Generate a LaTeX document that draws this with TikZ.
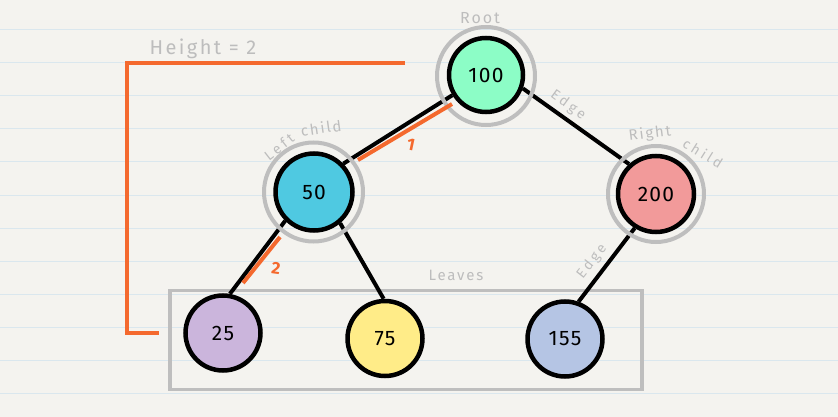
\documentclass[tikz,border=0pt]{standalone}
\usepackage{fontspec}
\setmainfont{Fira Sans}
\newfontfamily\lblfam[LetterSpace=12]{Fira Sans}
\newfontfamily\widefam[LetterSpace=22]{Fira Sans}
\newfontfamily\numfam[LetterSpace=6]{Fira Sans}
\definecolor{bgc}{HTML}{F4F3EF}
\definecolor{rulec}{HTML}{DAE7EE}
\definecolor{lblgray}{HTML}{BDBDBD}
\definecolor{ringgray}{HTML}{BEBEBE}
\definecolor{orng}{HTML}{F4692E}
\definecolor{cmint}{HTML}{8CFDC6}
\definecolor{ccyan}{HTML}{4FC9E1}
\definecolor{cpink}{HTML}{F29A9A}
\definecolor{clav}{HTML}{CBB5DC}
\definecolor{cyel}{HTML}{FFEC88}
\definecolor{cblue}{HTML}{B5C5E4}
\begin{document}
\begin{tikzpicture}[x=1pt,y=-1pt,
  tnode/.style={circle, draw=black, line width=4.5pt, minimum size=75pt, inner sep=0pt, font=\numfam\fontsize{21pt}{21pt}\selectfont},
  ringc/.style={circle, draw=ringgray, line width=4pt, minimum size=98pt, inner sep=0pt},
  edgeline/.style={line width=4pt, draw=black},
  oline/.style={line width=4pt, draw=orng},
  rulel/.style={line width=1pt, draw=rulec},
  lbl/.style={text=lblgray, font=\lblfam\fontsize{15pt}{15pt}\selectfont, inner sep=0pt},
  wlbl/.style={text=lblgray, font=\widefam\fontsize{14pt}{14pt}\selectfont, inner sep=0pt},
  olbl/.style={text=orng, font=\fontsize{17pt}{17pt}\selectfont\bfseries, inner sep=0pt}]
\useasboundingbox (0,0) rectangle (838,417);
\fill[bgc] (0,0) rectangle (838,417);
\foreach \k in {0,...,11}
  \draw[rulel] (0,{29.5+33.1*\k}) -- (838,{29.5+33.1*\k});
% leaves box
\node[draw=ringgray, line width=3.5pt, minimum width=472pt, minimum height=99pt, inner sep=0pt, anchor=north west] (leafbox) at (168,288.5) {};
% tree nodes
\node[tnode, fill=cmint, minimum size=74pt] (n100) at (486,75) {100};
\node[tnode, fill=ccyan, minimum size=77pt] (n50) at (314,192) {50};
\node[tnode, fill=cpink, minimum size=76pt] (n200) at (656,194) {200};
\node[tnode, fill=clav] (n25) at (223,333) {25};
\node[tnode, fill=cyel] (n75) at (385,338.5) {75};
\node[tnode, fill=cblue] (n155) at (565,339) {155};
% edges
\draw[edgeline] (n100.211) -- (n50.44);
\draw[edgeline] (n100.340) -- (n200.132);
\draw[edgeline] (n50.225) -- (n25.80);
\draw[edgeline] (n50.310) -- (n75.92);
\draw[edgeline] (n200.238) -- (n155.70);
% rings
\node[ringc] (r100) at (486,76) {};
\node[ringc, minimum size=99pt] (r50) at (313.5,192) {};
\node[ringc, minimum size=96pt] (r200) at (656,194) {};
% height bracket
\coordinate (hA) at (405,63);
\coordinate (hB) at (127,63);
\coordinate (hC) at (127,333);
\coordinate (hD) at (159,333);
\draw[oline] (hA) -- (hB) -- (hC) -- (hD);
\coordinate (o1a) at (452,104);
\coordinate (o1b) at (358,160);
\draw[oline] (o1a) -- (o1b);
\coordinate (o2a) at (280,237);
\coordinate (o2b) at (243,283);
\draw[oline] (o2a) -- (o2b);
\node[olbl, rotate=-12] (one) at (411,145) {1};
\node[olbl, rotate=-8] (two) at (276,268) {2};
% labels
\node[lbl, font=\lblfam\fontsize{20pt}{20pt}\selectfont] (hlbl) at (203,49) {Height = 2};
\node[lbl, font=\lblfam\fontsize{16pt}{16pt}\selectfont] (root) at (480,18) {Root};
\node[lbl] (leaves) at (456,275) {Leaves};
\node[wlbl, rotate=-36] (edge1) at (568,105) {Edge};
\node[wlbl, rotate=52] (edge2) at (592,262) {Edge};
\node[wlbl, rotate=38] (lft) at (279,147) {Left};
\node[lbl, rotate=8] (lchild) at (321,128) {child};
\node[lbl, rotate=7] (rgt) at (650,134) {Right};
\node[wlbl, rotate=-32] (rchild) at (703,153) {child};
\end{tikzpicture}
\end{document}
